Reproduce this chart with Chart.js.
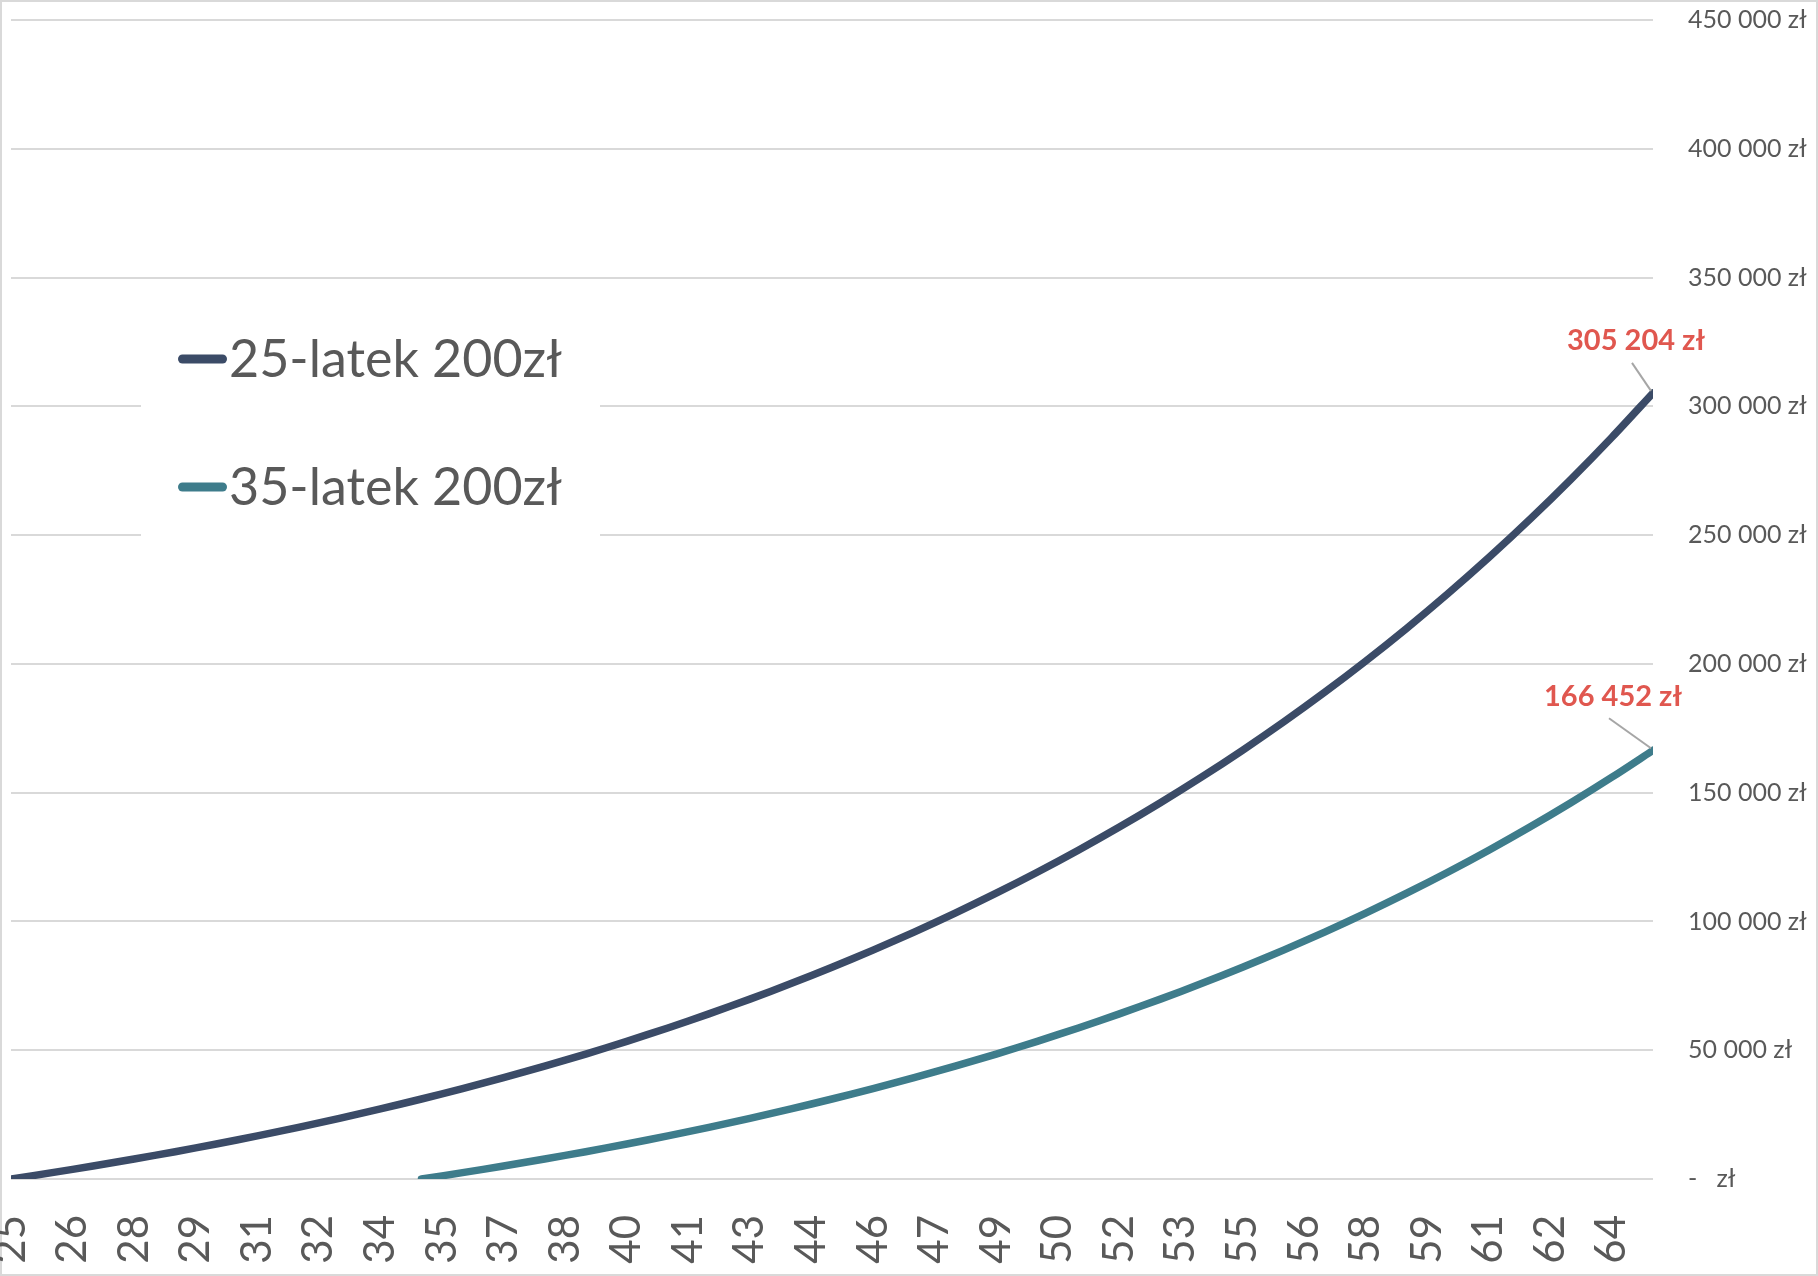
<!DOCTYPE html>
<html lang="pl">
<head>
  <meta charset="UTF-8">
  <title>25-latek vs 35-latek 200zł</title>
  <style>
    body {
      margin: 0;
      padding: 0;
      background-color: #ffffff;
    }
    .chart-container {
      width: 1818px;
      height: 1276px;
    }
  </style>
</head>
<body>
  <div class="chart-container">
    <canvas id="savingsChart"></canvas>
  </div>

  <script src="https://cdn.jsdelivr.net/npm/chart.js"></script>
  <script>
    // Age in years (one point per year)
    const ages = [25, 26, 27, 28, 29, 30, 31, 32, 33, 34, 35, 36, 37, 38, 39, 40, 41, 42, 43, 44, 45,
                  46, 47, 48, 49, 50, 51, 52, 53, 54, 55, 56, 57, 58, 59, 60, 61, 62, 63, 64, 65];

    // Savings (zł)
    const start25 = [0, 2460, 5040, 7750, 10600, 13600, 16750, 20070, 23550, 27210, 31060,
                     35100, 39350, 43820, 48520, 53460, 58650, 64100, 69840, 75870, 82210,
                     88870, 95870, 103230, 110970, 119100, 127650, 136640, 146080, 156010, 166450,
                     177420, 188960, 201080, 213820, 227220, 241300, 256100, 271660, 288010, 305204];
    const start35 = [null, null, null, null, null, null, null, null, null, null, 0,
                     2460, 5040, 7750, 10600, 13600, 16750, 20070, 23550, 27210, 31060,
                     35100, 39350, 43820, 48520, 53460, 58650, 64100, 69840, 75870, 82210,
                     88870, 95870, 103230, 110970, 119100, 127650, 136640, 146080, 156010, 166452];

    const seriesNames = ['25-latek 200zł', '35-latek 200zł'];

    const xTickLabels = ['25', '26', '28', '29', '31', '32', '34', '35', '37', '38', '40', '41', '43', '44',
                         '46', '47', '49', '50', '52', '53', '55', '56', '58', '59', '61', '62', '64'];
    const xTickStep = 1.5;
    const yTickLabels = ['-   zł', '50 000 zł', '100 000 zł', '150 000 zł', '200 000 zł',
                         '250 000 zł', '300 000 zł', '350 000 zł', '400 000 zł', '450 000 zł'];

    const colors = ['#3B4B67', '#3E7C8B'];
    const labelFont = 'Lato, "Open Sans", sans-serif';

    function formatZl(v) {
      return String(Math.round(v)).replace(/\B(?=(\d{3})+(?!\d))/g, ' ') + ' zł';
    }

    // white background + thin frame
    const framePlugin = {
      id: 'frame',
      beforeDraw(chart) {
        const c = chart.ctx;
        c.save();
        c.fillStyle = '#ffffff';
        c.fillRect(0, 0, chart.width, chart.height);
        c.strokeStyle = '#D9D9D9';
        c.lineWidth = 2;
        c.strokeRect(1, 1, chart.width - 2, chart.height - 2);
        c.restore();
      }
    };

    // legend box sitting inside the plot, covering the grid lines
    const legendPlugin = {
      id: 'insideLegend',
      beforeDatasetsDraw(chart) {
        const c = chart.ctx;
        c.save();
        c.fillStyle = '#ffffff';
        c.fillRect(141, 300, 459, 255);
        chart.data.datasets.forEach((ds, i) => {
          const y = 359 + i * 128;
          c.strokeStyle = ds.borderColor;
          c.lineWidth = 9;
          c.lineCap = 'round';
          c.beginPath();
          c.moveTo(182.5, y);
          c.lineTo(222.5, y);
          c.stroke();
          c.fillStyle = '#595959';
          c.font = '52px ' + labelFont;
          c.textAlign = 'left';
          c.textBaseline = 'alphabetic';
          c.fillText(ds.label, 229, y + 18);
        });
        c.restore();
      }
    };

    // end-value labels with leader lines
    const endLabelOffsets = [{ dx: -17, dy: -52 }, { dx: -40, dy: -54 }];
    const endLabelPlugin = {
      id: 'endLabels',
      afterDatasetsDraw(chart) {
        const c = chart.ctx;
        c.save();
        chart.data.datasets.forEach((ds, i) => {
          const meta = chart.getDatasetMeta(i);
          const last = meta.data[meta.data.length - 1];
          const value = ds.data[ds.data.length - 1].y;
          const off = endLabelOffsets[i];
          const lx = last.x + off.dx;
          const ly = last.y + off.dy;
          c.strokeStyle = '#A6A6A6';
          c.lineWidth = 2;
          c.beginPath();
          c.moveTo(lx - 4, ly + 22);
          c.lineTo(last.x - 2, last.y - 2);
          c.stroke();
          c.fillStyle = '#E0574F';
          c.font = 'bold 29px ' + labelFont;
          c.textAlign = 'center';
          c.textBaseline = 'middle';
          c.fillText(formatZl(value), lx, ly);
        });
        c.restore();
      }
    };

    const toPoints = arr => arr.map((v, i) => ({ x: ages[i], y: v }));

    const ctx = document.getElementById('savingsChart').getContext('2d');
    const savingsChart = new Chart(ctx, {
      type: 'line',
      data: {
        datasets: [
          {
            label: seriesNames[0],
            data: toPoints(start25),
            borderColor: colors[0],
            borderWidth: 7.5,
            borderCapStyle: 'round',
            pointRadius: 0,
            tension: 0.3,
            spanGaps: false
          },
          {
            label: seriesNames[1],
            data: toPoints(start35),
            borderColor: colors[1],
            borderWidth: 7.5,
            borderCapStyle: 'round',
            pointRadius: 0,
            tension: 0.3,
            spanGaps: false
          }
        ]
      },
      options: {
        responsive: true,
        maintainAspectRatio: false,
        animation: false,
        devicePixelRatio: 1,
        layout: {
          padding: { left: 11, top: 20, right: 0, bottom: 0 }
        },
        plugins: {
          legend: { display: false },
          tooltip: { enabled: false }
        },
        scales: {
          x: {
            type: 'linear',
            min: 25,
            max: 65,
            grid: { display: false, drawTicks: false },
            border: { display: false },
            afterBuildTicks(scale) {
              scale.ticks = xTickLabels.map((l, i) => ({ value: 25 + xTickStep * i }));
            },
            ticks: {
              autoSkip: false,
              minRotation: 90,
              maxRotation: 90,
              padding: 36,
              color: '#595959',
              font: { family: labelFont, size: 42 },
              callback: (v, i) => xTickLabels[i]
            },
            afterFit(scale) {
              scale.height = 97;
              scale.paddingLeft = 0;
              scale.paddingRight = 0;
            }
          },
          y: {
            position: 'right',
            min: 0,
            max: 450000,
            grid: { color: '#D9D9D9', lineWidth: 2, drawTicks: false },
            border: { display: false },
            ticks: {
              stepSize: 50000,
              padding: 35,
              color: '#595959',
              font: { family: labelFont, size: 25 },
              callback: (v, i) => yTickLabels[i]
            },
            afterFit(scale) {
              scale.width = 165;
              scale.paddingTop = 0;
              scale.paddingBottom = 0;
            }
          }
        }
      },
      plugins: [framePlugin, legendPlugin, endLabelPlugin]
    });
  </script>
</body>
</html>
